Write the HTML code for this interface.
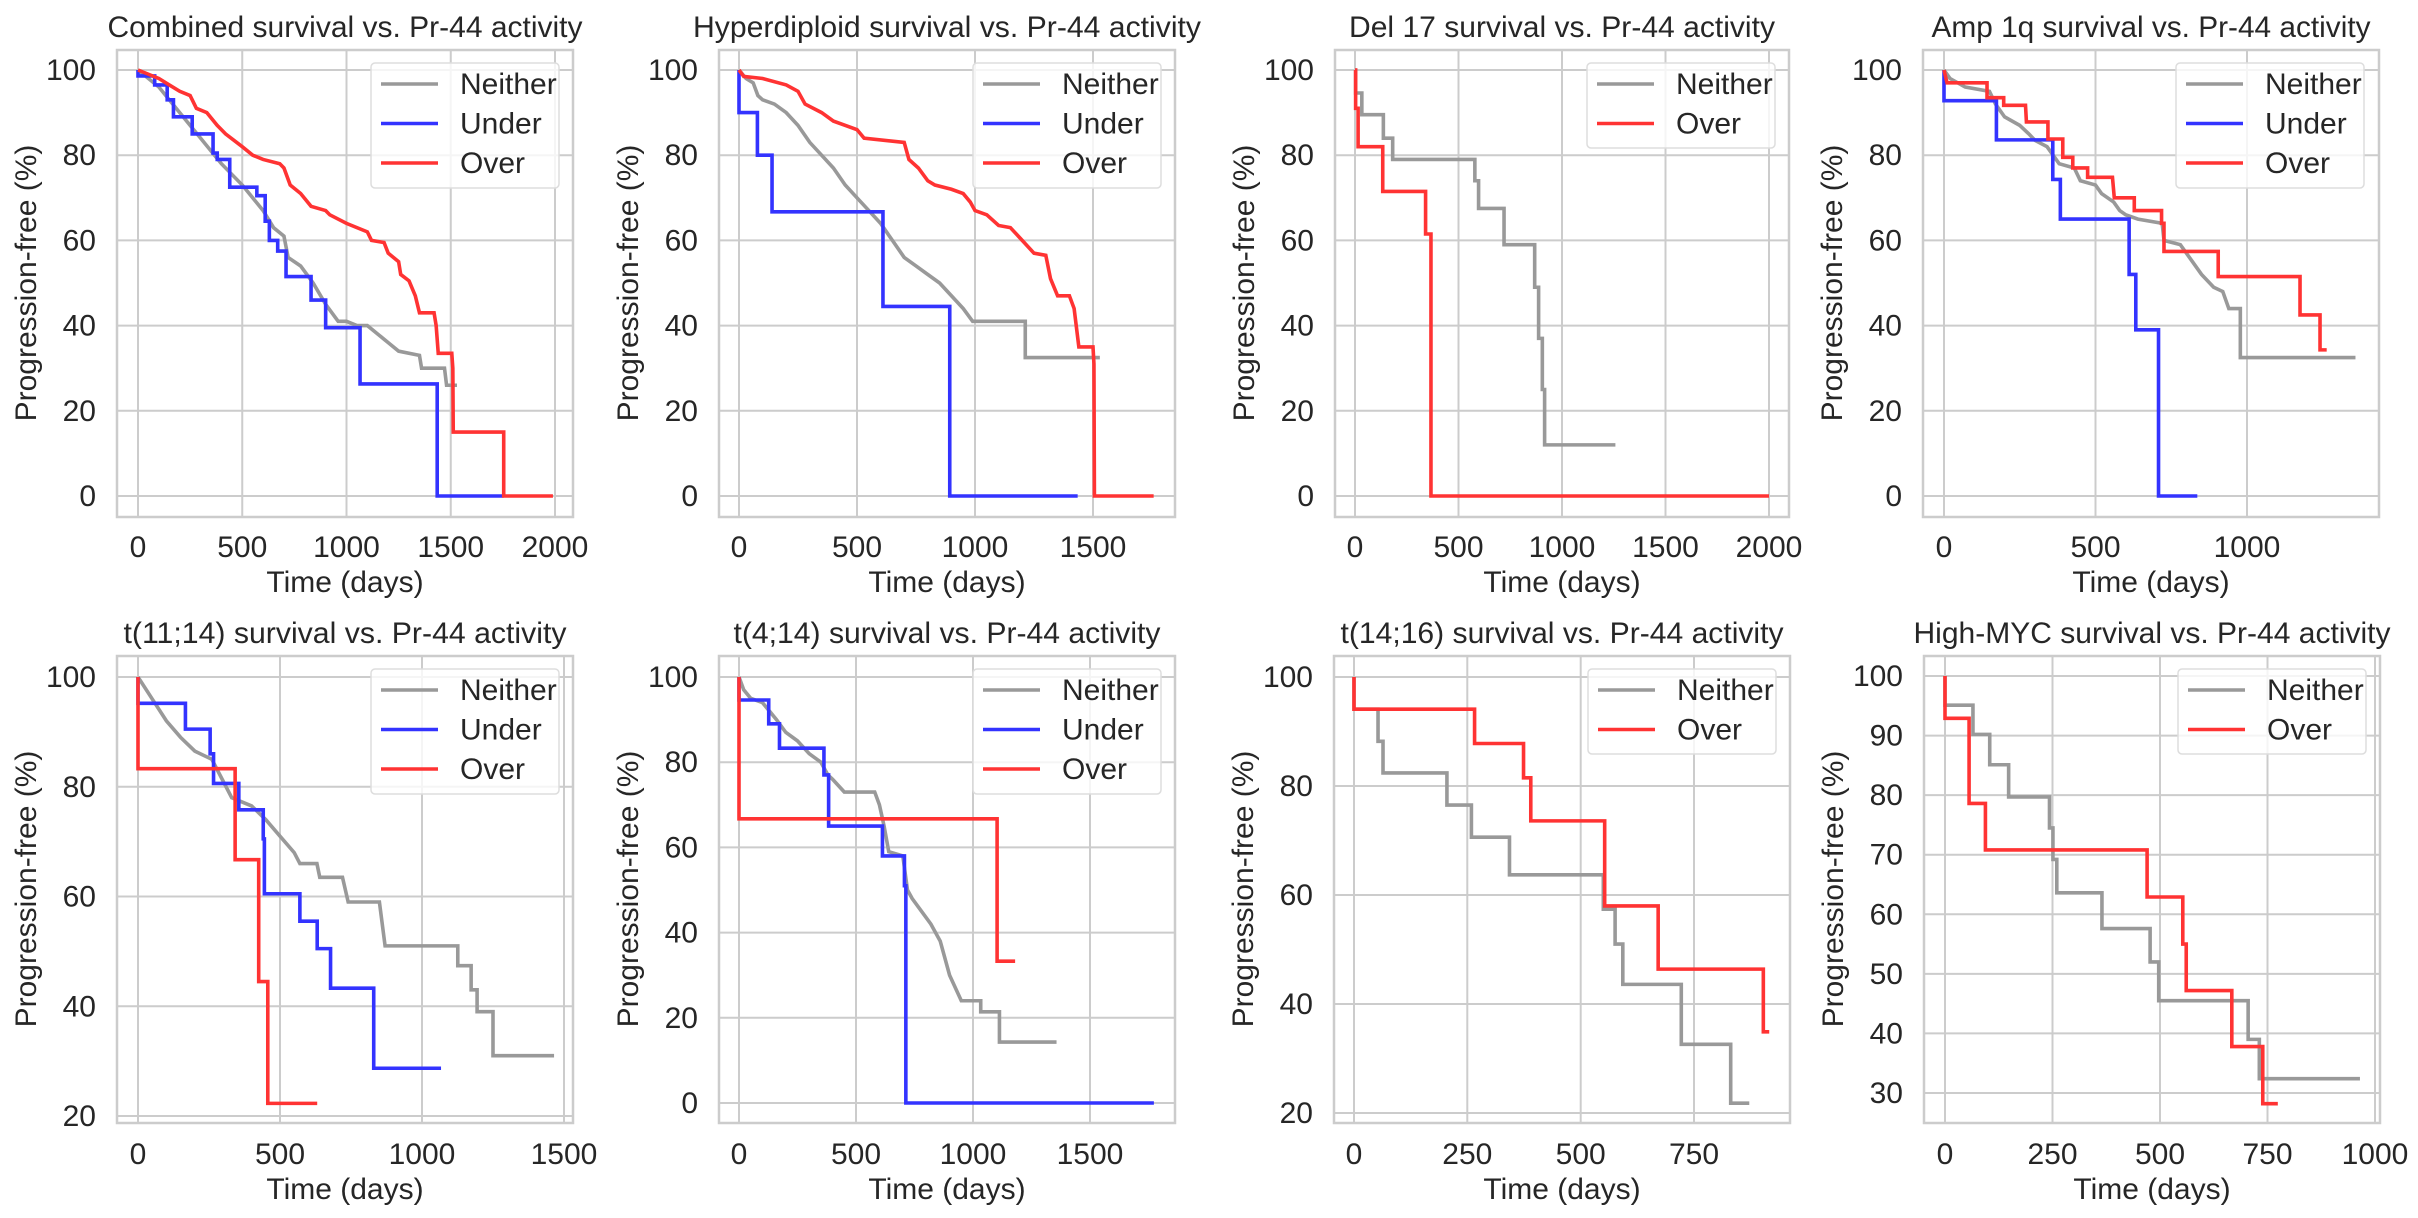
<!DOCTYPE html>
<html><head><meta charset="utf-8"><style>
html,body{margin:0;padding:0;background:#fff;}
svg{display:block;font-family:"Liberation Sans",Arial,sans-serif;}
.g{stroke:#cccccc;stroke-width:2;fill:none}
.f{stroke:#cccccc;stroke-width:2.5;fill:none}
.t{fill:#262626;font-size:30px}
.ty{fill:#262626;font-size:30px;text-anchor:end}
.tx{fill:#262626;font-size:30px;text-anchor:middle}
.s{fill:none;stroke-width:3.6;vector-effect:non-scaling-stroke;stroke-linejoin:miter}
.n{stroke:#999999}.u{stroke:#3333ff}.o{stroke:#ff3333}
.lg{fill:rgba(255,255,255,0.8);stroke:#dddddd;stroke-width:1.5}
</style></head><body>
<svg width="2418" height="1218" viewBox="0 0 2418 1218" xmlns="http://www.w3.org/2000/svg">
<rect width="2418" height="1218" fill="#fff"/>

<!-- ============ PANEL 1 ============ -->
<g>
<path class="g" d="M117,496H573M117,410.8H573M117,325.6H573M117,240.4H573M117,155.2H573M117,70H573M138,50V517M242.25,50V517M346.5,50V517M450.75,50V517M555,50V517"/>
<rect class="f" x="117" y="50" width="456" height="467"/>
<g transform="translate(138,496) scale(0.2085,-4.26)">
<polyline class="s n" points="0,100 100,96 200,90 300,84 400,78 500,73 600,67 650,63 700,61 720,56 780,54 840,50 900,45 960,41 1000,41 1050,40 1100,40 1150,38 1200,36 1250,34 1350,33 1360,30 1470,30 1480,26 1530,26"/>
<polyline class="s u" points="0,100 0,98.6 80,98.6 80,96.5 140,96.5 140,93 170,93 170,89 260,89 260,85 360,85 360,80.5 380,80.5 380,79 440,79 440,72.5 570,72.5 570,70.5 610,70.5 610,64.5 630,64.5 630,60 670,60 670,57.5 710,57.5 710,51.5 830,51.5 830,46 900,46 900,39.5 1065,39.5 1065,26.3 1435,26.3 1435,0 1754,0"/>
<polyline class="s o" points="0,100 50,99 100,98 150,96.5 200,95 250,94 280,91 330,90 380,87 420,85 500,82 550,80 600,79 680,78 700,77 730,73 780,71 830,68 900,67 920,66 1000,64 1100,62 1120,60 1180,59.5 1200,57 1250,55 1260,52 1300,50.5 1330,47 1350,43 1420,43 1430,40 1440,33.5 1505,33.5 1510,30 1512,15 1754,15 1754,0 1990,0"/>
</g>
<text class="ty" x="96" y="506">0</text><text class="ty" x="96" y="420.8">20</text><text class="ty" x="96" y="335.6">40</text><text class="ty" x="96" y="250.4">60</text><text class="ty" x="96" y="165.2">80</text><text class="ty" x="96" y="80">100</text>
<text class="tx" x="138" y="557">0</text><text class="tx" x="242.25" y="557">500</text><text class="tx" x="346.5" y="557">1000</text><text class="tx" x="450.75" y="557">1500</text><text class="tx" x="555" y="557">2000</text>
<text class="tx" x="345" y="592">Time (days)</text>
<text class="tx" transform="translate(36,283) rotate(-90)">Progression-free (%)</text>
<text class="tx" x="345" y="37" textLength="475" lengthAdjust="spacingAndGlyphs">Combined survival vs. Pr-44 activity</text>
<rect class="lg" x="371" y="63" width="188" height="125" rx="4"/>
<path d="M381,84H438" stroke="#999" stroke-width="3.6"/><path d="M381,123.5H438" stroke="#3333ff" stroke-width="3.6"/><path d="M381,163H438" stroke="#ff3333" stroke-width="3.6"/>
<text class="t" x="460" y="94">Neither</text><text class="t" x="460" y="133.5">Under</text><text class="t" x="460" y="173">Over</text>
</g>

<!-- ============ PANEL 2 ============ -->
<g>
<path class="g" d="M719,496H1175M719,410.8H1175M719,325.6H1175M719,240.4H1175M719,155.2H1175M719,70H1175M739,50V517M857,50V517M975,50V517M1093,50V517"/>
<rect class="f" x="719" y="50" width="456" height="467"/>
<g transform="translate(739,496) scale(0.236,-4.26)">
<polyline class="s n" points="0,100 30,98 60,97 80,94 100,93 150,92 200,90 250,87 300,83 350,80 400,77 450,73 500,70 550,67 600,64 650,60 700,56 750,54 800,52 850,50 900,47 950,44 990,41 1213,41 1213,32.5 1529,32.5"/>
<polyline class="s u" points="0,100 0,90 78,90 78,80 140,80 140,66.7 610,66.7 610,44.5 893,44.5 893,0 1435,0"/>
<polyline class="s o" points="0,100 20,98.5 100,98 200,96.5 250,95 280,92 350,90 400,88 500,86 530,84 700,83 720,79 760,77 800,74 830,73 900,72 950,71 980,69 1000,67 1050,66 1100,63.5 1150,63 1200,60 1250,57 1300,56.5 1320,51 1350,47 1400,47 1420,44 1440,35 1500,35 1504,31 1506,0 1757,0"/>
</g>
<text class="ty" x="698" y="506">0</text><text class="ty" x="698" y="420.8">20</text><text class="ty" x="698" y="335.6">40</text><text class="ty" x="698" y="250.4">60</text><text class="ty" x="698" y="165.2">80</text><text class="ty" x="698" y="80">100</text>
<text class="tx" x="739" y="557">0</text><text class="tx" x="857" y="557">500</text><text class="tx" x="975" y="557">1000</text><text class="tx" x="1093" y="557">1500</text>
<text class="tx" x="947" y="592">Time (days)</text>
<text class="tx" transform="translate(638,283) rotate(-90)">Progression-free (%)</text>
<text class="tx" x="947" y="37" textLength="508" lengthAdjust="spacingAndGlyphs">Hyperdiploid survival vs. Pr-44 activity</text>
<rect class="lg" x="973" y="63" width="188" height="125" rx="4"/>
<path d="M983,84H1040" stroke="#999" stroke-width="3.6"/><path d="M983,123.5H1040" stroke="#3333ff" stroke-width="3.6"/><path d="M983,163H1040" stroke="#ff3333" stroke-width="3.6"/>
<text class="t" x="1062" y="94">Neither</text><text class="t" x="1062" y="133.5">Under</text><text class="t" x="1062" y="173">Over</text>
</g>

<!-- ============ PANEL 3 ============ -->
<g>
<path class="g" d="M1335,496H1789M1335,410.8H1789M1335,325.6H1789M1335,240.4H1789M1335,155.2H1789M1335,70H1789M1355,50V517M1458.5,50V517M1562,50V517M1665.5,50V517M1769,50V517"/>
<rect class="f" x="1335" y="50" width="454" height="467"/>
<g transform="translate(1355,496) scale(0.207,-4.26)">
<polyline class="s n" points="0,100 3,100 3,94.6 33,94.6 33,89.5 137,89.5 137,84 182,84 182,79 579,79 579,74 597,74 597,67.5 720,67.5 720,59 868,59 868,49 887,49 887,37 905,37 905,25 916,25 916,12 1258,12"/>
<polyline class="s o" points="0,100 3,100 3,91 15,91 15,82 134,82 134,71.5 341,71.5 341,61.5 367,61.5 367,0 2000,0"/>
</g>
<text class="ty" x="1314" y="506">0</text><text class="ty" x="1314" y="420.8">20</text><text class="ty" x="1314" y="335.6">40</text><text class="ty" x="1314" y="250.4">60</text><text class="ty" x="1314" y="165.2">80</text><text class="ty" x="1314" y="80">100</text>
<text class="tx" x="1355" y="557">0</text><text class="tx" x="1458.5" y="557">500</text><text class="tx" x="1562" y="557">1000</text><text class="tx" x="1665.5" y="557">1500</text><text class="tx" x="1769" y="557">2000</text>
<text class="tx" x="1562" y="592">Time (days)</text>
<text class="tx" transform="translate(1254,283) rotate(-90)">Progression-free (%)</text>
<text class="tx" x="1562" y="37" textLength="426" lengthAdjust="spacingAndGlyphs">Del 17 survival vs. Pr-44 activity</text>
<rect class="lg" x="1587" y="63" width="188" height="85" rx="4"/>
<path d="M1597,84H1654" stroke="#999" stroke-width="3.6"/><path d="M1597,123.5H1654" stroke="#ff3333" stroke-width="3.6"/>
<text class="t" x="1676" y="94">Neither</text><text class="t" x="1676" y="133.5">Over</text>
</g>

<!-- ============ PANEL 4 ============ -->
<g>
<path class="g" d="M1923,496H2379M1923,410.8H2379M1923,325.6H2379M1923,240.4H2379M1923,155.2H2379M1923,70H2379M1944,50V517M2095.5,50V517M2247,50V517"/>
<rect class="f" x="1923" y="50" width="456" height="467"/>
<g transform="translate(1944,496) scale(0.303,-4.26)">
<polyline class="s n" points="0,100 20,98 70,96 150,95 170,92 200,89 250,87 280,85 300,83.5 340,82 360,80 380,78 430,77 450,74 500,73 520,71 560,69 580,67 600,66 640,65 720,64 726,60 780,59 820,55 850,52 890,49 920,48 940,44 978,44 978,32.5 1358,32.5"/>
<polyline class="s u" points="0,100 0,92.8 173,92.8 173,83.6 359,83.6 359,74.3 384,74.3 384,65 611,65 611,52 633,52 633,39 708,39 708,0 836,0"/>
<polyline class="s o" points="0,100 10,97 142,97 142,93.5 197,93.5 197,91.7 269,91.7 272,87.8 343,87.8 343,83.8 392,83.8 392,79.5 425,79.5 425,77 474,77 474,74.8 556,74.8 562,70 628,70 628,67 718,67 718,64 726,64 726,57.4 905,57.4 905,51.5 1175,51.5 1175,42.5 1241,42.5 1241,34.3 1263,34.3"/>
</g>
<text class="ty" x="1902" y="506">0</text><text class="ty" x="1902" y="420.8">20</text><text class="ty" x="1902" y="335.6">40</text><text class="ty" x="1902" y="250.4">60</text><text class="ty" x="1902" y="165.2">80</text><text class="ty" x="1902" y="80">100</text>
<text class="tx" x="1944" y="557">0</text><text class="tx" x="2095.5" y="557">500</text><text class="tx" x="2247" y="557">1000</text>
<text class="tx" x="2151" y="592">Time (days)</text>
<text class="tx" transform="translate(1842,283) rotate(-90)">Progression-free (%)</text>
<text class="tx" x="2151" y="37" textLength="439" lengthAdjust="spacingAndGlyphs">Amp 1q survival vs. Pr-44 activity</text>
<rect class="lg" x="2176" y="63" width="188" height="125" rx="4"/>
<path d="M2186,84H2243" stroke="#999" stroke-width="3.6"/><path d="M2186,123.5H2243" stroke="#3333ff" stroke-width="3.6"/><path d="M2186,163H2243" stroke="#ff3333" stroke-width="3.6"/>
<text class="t" x="2265" y="94">Neither</text><text class="t" x="2265" y="133.5">Under</text><text class="t" x="2265" y="173">Over</text>
</g>

<!-- ============ PANEL 5 ============ -->
<g>
<path class="g" d="M117,1116H573M117,1006.3H573M117,896.5H573M117,786.8H573M117,677H573M138,656V1123M280,656V1123M422,656V1123M564,656V1123"/>
<rect class="f" x="117" y="656" width="456" height="467"/>
<g transform="translate(138,1225.75) scale(0.284,-5.4875)">
<polyline class="s n" points="0,100 50,96 100,92 150,89 200,86.5 260,85 300,81 330,78 400,76.5 450,74 500,71 550,68 570,66 630,66 640,63.5 720,63.5 740,59 850,59 870,51 1126,51 1126,47.4 1173,47.4 1173,43 1194,43 1194,39 1250,39 1250,31 1465,31"/>
<polyline class="s u" points="0,100 0,95.2 167,95.2 167,90.5 254,90.5 254,86 266,86 266,80.6 355,80.6 355,75.8 441,75.8 441,70.5 445,70.5 445,60.5 570,60.5 570,55.5 631,55.5 631,50.5 678,50.5 678,43.3 830,43.3 830,28.7 1067,28.7"/>
<polyline class="s o" points="0,100 0,83.3 342,83.3 342,66.7 425,66.7 425,44.5 457,44.5 457,22.3 631,22.3"/>
</g>
<text class="ty" x="96" y="1126">20</text><text class="ty" x="96" y="1016.3">40</text><text class="ty" x="96" y="906.5">60</text><text class="ty" x="96" y="796.8">80</text><text class="ty" x="96" y="687">100</text>
<text class="tx" x="138" y="1164">0</text><text class="tx" x="280" y="1164">500</text><text class="tx" x="422" y="1164">1000</text><text class="tx" x="564" y="1164">1500</text>
<text class="tx" x="345" y="1199">Time (days)</text>
<text class="tx" transform="translate(36,889) rotate(-90)">Progression-free (%)</text>
<text class="tx" x="345" y="643" textLength="443" lengthAdjust="spacingAndGlyphs">t(11;14) survival vs. Pr-44 activity</text>
<rect class="lg" x="371" y="669" width="188" height="125" rx="4"/>
<path d="M381,690H438" stroke="#999" stroke-width="3.6"/><path d="M381,729.5H438" stroke="#3333ff" stroke-width="3.6"/><path d="M381,769H438" stroke="#ff3333" stroke-width="3.6"/>
<text class="t" x="460" y="700">Neither</text><text class="t" x="460" y="739.5">Under</text><text class="t" x="460" y="779">Over</text>
</g>

<!-- ============ PANEL 6 ============ -->
<g>
<path class="g" d="M719,1103H1175M719,1017.8H1175M719,932.6H1175M719,847.4H1175M719,762.2H1175M719,677H1175M739,656V1123M856,656V1123M973,656V1123M1090,656V1123"/>
<rect class="f" x="719" y="656" width="456" height="467"/>
<g transform="translate(739,1103) scale(0.234,-4.26)">
<polyline class="s n" points="0,100 20,97 50,95 100,94 130,92 160,90 200,87 250,85 300,82 350,80 380,77 400,76 450,73 580,73 600,70 620,65 640,59 700,58 720,50 740,48 780,45 820,42 860,38 900,30 950,24 1033,24 1033,21.4 1113,21.4 1113,14.3 1357,14.3"/>
<polyline class="s u" points="0,100 0,94.6 127,94.6 127,89 173,89 173,83.3 363,83.3 363,77 383,77 383,65 613,65 613,58 707,58 707,51 713,51 713,0 1773,0"/>
<polyline class="s o" points="0,100 0,66.7 1103,66.7 1103,33.3 1180,33.3"/>
</g>
<text class="ty" x="698" y="1113">0</text><text class="ty" x="698" y="1027.8">20</text><text class="ty" x="698" y="942.6">40</text><text class="ty" x="698" y="857.4">60</text><text class="ty" x="698" y="772.2">80</text><text class="ty" x="698" y="687">100</text>
<text class="tx" x="739" y="1164">0</text><text class="tx" x="856" y="1164">500</text><text class="tx" x="973" y="1164">1000</text><text class="tx" x="1090" y="1164">1500</text>
<text class="tx" x="947" y="1199">Time (days)</text>
<text class="tx" transform="translate(638,889) rotate(-90)">Progression-free (%)</text>
<text class="tx" x="947" y="643" textLength="427" lengthAdjust="spacingAndGlyphs">t(4;14) survival vs. Pr-44 activity</text>
<rect class="lg" x="973" y="669" width="188" height="125" rx="4"/>
<path d="M983,690H1040" stroke="#999" stroke-width="3.6"/><path d="M983,729.5H1040" stroke="#3333ff" stroke-width="3.6"/><path d="M983,769H1040" stroke="#ff3333" stroke-width="3.6"/>
<text class="t" x="1062" y="700">Neither</text><text class="t" x="1062" y="739.5">Under</text><text class="t" x="1062" y="779">Over</text>
</g>

<!-- ============ PANEL 7 ============ -->
<g>
<path class="g" d="M1334,1113H1790M1334,1004H1790M1334,895H1790M1334,786H1790M1334,677H1790M1354,656V1123M1467.3,656V1123M1580.7,656V1123M1694,656V1123"/>
<rect class="f" x="1334" y="656" width="456" height="467"/>
<g transform="translate(1354,1222) scale(0.4533,-5.45)">
<polyline class="s n" points="0,100 0,94.1 53,94.1 53,88.2 64,88.2 64,82.4 205,82.4 205,76.5 259,76.5 259,70.6 343,70.6 343,63.7 550,63.7 550,57.4 576,57.4 576,51 593,51 593,43.6 722,43.6 722,32.6 831,32.6 831,21.8 872,21.8"/>
<polyline class="s o" points="0,100 0,94.1 266,94.1 266,87.8 374,87.8 374,81.5 390,81.5 390,73.6 553,73.6 553,58 671,58 671,46.4 903,46.4 903,34.9 916,34.9"/>
</g>
<text class="ty" x="1313" y="1123">20</text><text class="ty" x="1313" y="1014">40</text><text class="ty" x="1313" y="905">60</text><text class="ty" x="1313" y="796">80</text><text class="ty" x="1313" y="687">100</text>
<text class="tx" x="1354" y="1164">0</text><text class="tx" x="1467.3" y="1164">250</text><text class="tx" x="1580.7" y="1164">500</text><text class="tx" x="1694" y="1164">750</text>
<text class="tx" x="1562" y="1199">Time (days)</text>
<text class="tx" transform="translate(1253,889) rotate(-90)">Progression-free (%)</text>
<text class="tx" x="1562" y="643" textLength="443" lengthAdjust="spacingAndGlyphs">t(14;16) survival vs. Pr-44 activity</text>
<rect class="lg" x="1588" y="669" width="188" height="85" rx="4"/>
<path d="M1598,690H1655" stroke="#999" stroke-width="3.6"/><path d="M1598,729.5H1655" stroke="#ff3333" stroke-width="3.6"/>
<text class="t" x="1677" y="700">Neither</text><text class="t" x="1677" y="739.5">Over</text>
</g>

<!-- ============ PANEL 8 ============ -->
<g>
<path class="g" d="M1924,1093H2380M1924,1033.4H2380M1924,973.9H2380M1924,914.3H2380M1924,854.7H2380M1924,795.1H2380M1924,735.6H2380M1924,676H2380M1945,656V1123M2052.5,656V1123M2160,656V1123M2267.5,656V1123M2375,656V1123"/>
<rect class="f" x="1924" y="656" width="456" height="467"/>
<g transform="translate(1945,1271.7) scale(0.43,-5.957)">
<polyline class="s n" points="0,100 0,95.1 65,95.1 65,90.2 104,90.2 104,85.1 148,85.1 148,79.7 243,79.7 243,74.5 251,74.5 251,69.2 260,69.2 260,63.6 365,63.6 365,57.6 477,57.6 477,52 497,52 497,45.5 705,45.5 705,39 731,39 731,32.4 965,32.4"/>
<polyline class="s o" points="0,100 0,92.9 56,92.9 56,78.6 94,78.6 94,70.8 470,70.8 470,62.9 553,62.9 553,55 561,55 561,47.2 667,47.2 667,37.8 739,37.8 739,28.2 774,28.2"/>
</g>
<text class="ty" x="1903" y="1103">30</text><text class="ty" x="1903" y="1043.4">40</text><text class="ty" x="1903" y="983.9">50</text><text class="ty" x="1903" y="924.3">60</text><text class="ty" x="1903" y="864.7">70</text><text class="ty" x="1903" y="805.1">80</text><text class="ty" x="1903" y="745.6">90</text><text class="ty" x="1903" y="686">100</text>
<text class="tx" x="1945" y="1164">0</text><text class="tx" x="2052.5" y="1164">250</text><text class="tx" x="2160" y="1164">500</text><text class="tx" x="2267.5" y="1164">750</text><text class="tx" x="2375" y="1164">1000</text>
<text class="tx" x="2152" y="1199">Time (days)</text>
<text class="tx" transform="translate(1843,889) rotate(-90)">Progression-free (%)</text>
<text class="tx" x="2152" y="643" textLength="477" lengthAdjust="spacingAndGlyphs">High-MYC survival vs. Pr-44 activity</text>
<rect class="lg" x="2178" y="669" width="188" height="85" rx="4"/>
<path d="M2188,690H2245" stroke="#999" stroke-width="3.6"/><path d="M2188,729.5H2245" stroke="#ff3333" stroke-width="3.6"/>
<text class="t" x="2267" y="700">Neither</text><text class="t" x="2267" y="739.5">Over</text>
</g>
</svg>
</body></html>
